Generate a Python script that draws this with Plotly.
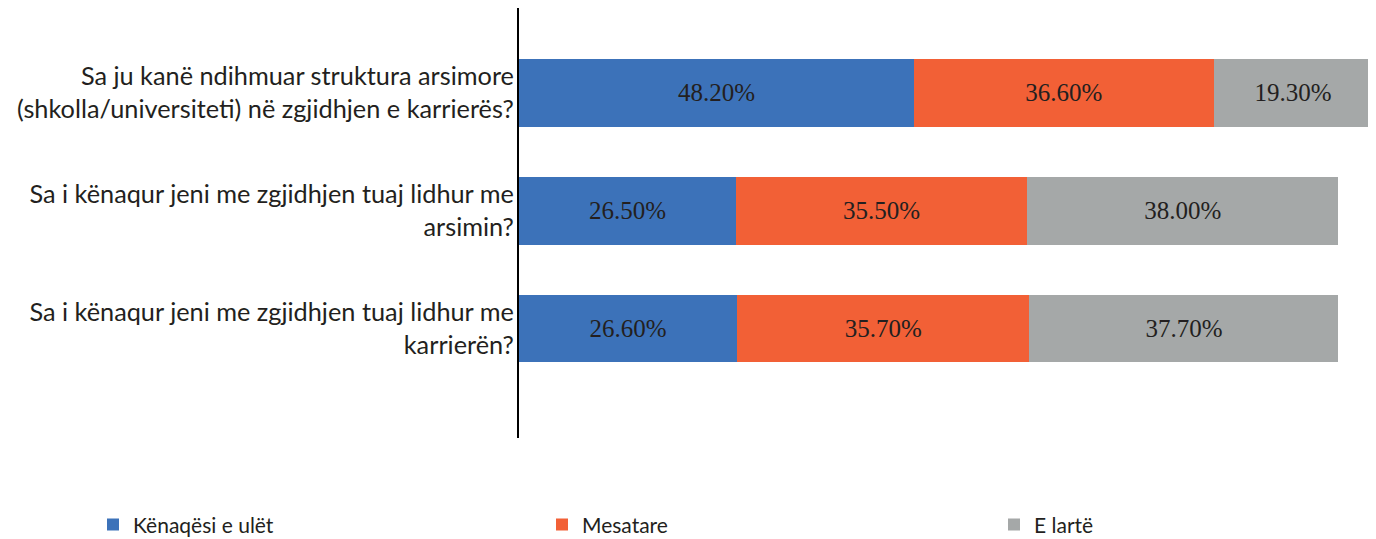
import plotly.graph_objects as go

questions = [
    "Sa ju kanë ndihmuar struktura arsimore<br>(shkolla/universiteti) në zgjidhjen e karrierës?",
    "Sa i kënaqur jeni me zgjidhjen tuaj lidhur me<br>arsimin?",
    "Sa i kënaqur jeni me zgjidhjen tuaj lidhur me<br>karrierën?",
]
series_names = ["Kënaqësi e ulët", "Mesatare", "E lartë"]
low = [48.2, 26.5, 26.6]
medium = [36.6, 35.5, 35.7]
high = [19.3, 38.0, 37.7]
colors = ["#3C72B9", "#F26036", "#A5A8A8"]

legend_ids = ["legend", "legend2", "legend3"]
legend_x = [85, 534, 986]  # left edge of each legend box, px

fig = go.Figure()
for name, vals, col, lg in zip(series_names, [low, medium, high], colors, legend_ids):
    fig.add_trace(go.Bar(
        y=questions, x=vals, name=name, orientation="h",
        marker=dict(color=col, line=dict(width=0)),
        width=0.576, legend=lg, showlegend=True,
        text=[f"{v:.2f}%" for v in vals],
        textposition="inside", insidetextanchor="middle", textangle=0,
        textfont=dict(family="Liberation Serif", size=25, color="#231F20"),
    ))

legend_style = dict(
    yref="container", y=0.041, yanchor="middle",
    xref="container", xanchor="left",
    font=dict(family="Lato", size=21, color="#231F20"),
    itemwidth=30, bgcolor="rgba(0,0,0,0)",
)
layout_legends = {}
for lg, lx in zip(legend_ids, legend_x):
    layout_legends[lg] = dict(legend_style, x=lx / 1376)

fig.update_layout(
    barmode="stack",
    width=1376, height=539,
    margin=dict(l=511, r=12, t=0, b=109, autoexpand=False),
    plot_bgcolor="white", paper_bgcolor="white",
    font=dict(family="Lato", size=25.3, color="#231F20"),
    xaxis=dict(range=[0, 104.1], visible=False, automargin=False),
    yaxis=dict(
        categoryorder="array", categoryarray=questions,
        range=[2.93, -0.72], autorange=False, automargin=False,
        showline=True, linecolor="black", linewidth=2,
        ticks="", showgrid=False, ticklabelstandoff=-2,
    ),
    **layout_legends,
)
fig.write_html("out.html")
